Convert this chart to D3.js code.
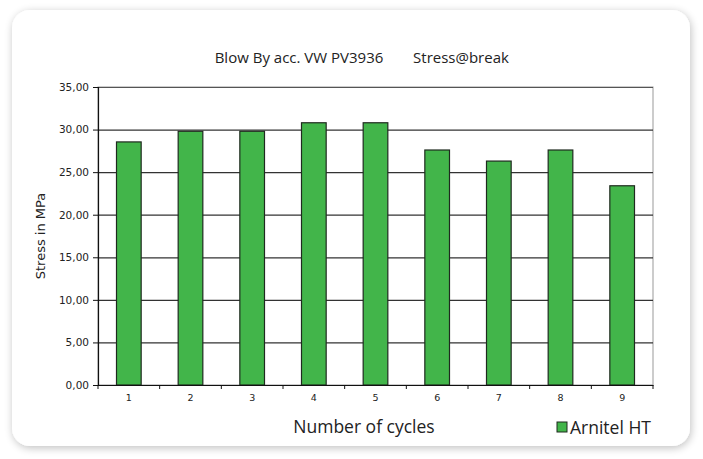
<!DOCTYPE html>
<html>
<head>
<meta charset="utf-8">
<script src="https://cdn.jsdelivr.net/npm/d3@7"></script>
<style>
  body { margin: 0; background: #fff; }
  svg text { fill: #222; }
</style>
</head>
<body>
<div id="chart"></div>
<script>
const cycles = ["1", "2", "3", "4", "5", "6", "7", "8", "9"];
const stress = [28.55, 29.8, 29.8, 30.8, 30.8, 27.6, 26.3, 27.6, 23.4];
const yTicks = [0, 5, 10, 15, 20, 25, 30, 35];
const seriesName = "Arnitel HT";

const W = 703, H = 459;
const margin = { top: 87, right: 50, bottom: 74, left: 98 };
const width = W - margin.left - margin.right;
const height = H - margin.top - margin.bottom;

const svg = d3.select("#chart").append("svg")
    .attr("width", W)
    .attr("height", H);

// card with soft shadow
const defs = svg.append("defs");
const blur = defs.append("filter").attr("id", "shadow")
    .attr("x", "-10%").attr("y", "-10%").attr("width", "120%").attr("height", "120%");
blur.append("feGaussianBlur").attr("in", "SourceAlpha").attr("stdDeviation", 4);
blur.append("feOffset").attr("dx", 1).attr("dy", 2).attr("result", "b");
blur.append("feComponentTransfer").append("feFuncA").attr("type", "linear").attr("slope", 0.25);
const merge = blur.append("feMerge");
merge.append("feMergeNode");
merge.append("feMergeNode").attr("in", "SourceGraphic");

svg.append("rect")
    .attr("x", 12).attr("y", 10)
    .attr("width", 678).attr("height", 436)
    .attr("rx", 18)
    .attr("fill", "#fff")
    .attr("filter", "url(#shadow)");

const g = svg.append("g")
    .attr("transform", `translate(${margin.left},${margin.top})`);

const x = d3.scaleBand()
    .domain(cycles)
    .range([0, width])
    .paddingInner(0.6)
    .paddingOuter(0.3);

const y = d3.scaleLinear()
    .domain([0, 35])
    .range([height, 0]);

// plot border
g.append("rect")
    .attr("width", width).attr("height", height)
    .attr("fill", "#fff")
    .attr("stroke", "#999")
    .attr("stroke-width", 1);

// gridlines
g.selectAll("line.grid")
    .data(yTicks.filter(d => d > 0 && d < 35))
    .enter()
    .append("line")
    .attr("class", "grid")
    .attr("x1", 0).attr("x2", width)
    .attr("y1", d => y(d) + 0.5).attr("y2", d => y(d) + 0.5)
    .attr("stroke", "#333")
    .attr("stroke-width", 1.2);

g.append("line")
    .attr("x1", 0).attr("x2", width)
    .attr("y1", 0.5).attr("y2", 0.5)
    .attr("stroke", "#555");

// bars
g.selectAll("rect.bar")
    .data(stress)
    .enter()
    .append("rect")
    .attr("class", "bar")
    .attr("x", (d, i) => x(cycles[i]))
    .attr("y", d => y(d))
    .attr("width", x.bandwidth())
    .attr("height", d => height - y(d))
    .attr("fill", "#42b54a")
    .attr("stroke", "#1f2a1f")
    .attr("stroke-width", 1.2);

// y axis
const yAxis = g.append("g")
    .call(d3.axisLeft(y)
        .tickValues(yTicks)
        .tickSize(5)
        .tickFormat(d => d3.format(".2f")(d).replace(".", ",")));
yAxis.select(".domain").attr("stroke", "#111").attr("stroke-width", 1.2);
yAxis.selectAll(".tick line").attr("stroke", "#111");
yAxis.selectAll("text")
    .attr("x", -9)
    .style("font-family", "DejaVu Sans, Verdana, sans-serif")
    .style("font-size", "10.5px")
    .attr("fill", "#222");

// x axis: ticks between categories
const xAxis = g.append("g")
    .attr("transform", `translate(0,${height})`)
    .call(d3.axisBottom(x).tickSize(0).tickPadding(9));
xAxis.select(".domain").attr("stroke", "#111").attr("stroke-width", 1.2);
xAxis.selectAll("text")
    .style("font-family", "DejaVu Sans, Verdana, sans-serif")
    .style("font-size", "9.5px")
    .attr("fill", "#222");

const edges = d3.range(cycles.length + 1).map(i => i * width / cycles.length);
xAxis.selectAll("line.sep")
    .data(edges)
    .enter()
    .append("line")
    .attr("class", "sep")
    .attr("x1", d => d).attr("x2", d => d)
    .attr("y1", 0).attr("y2", 4)
    .attr("stroke", "#111");

// titles
svg.append("text")
    .attr("x", 299).attr("y", 63)
    .attr("text-anchor", "middle")
    .style("font-family", "Open Sans, sans-serif")
    .style("font-size", "15px")
    .text("Blow By acc. VW PV3936");

svg.append("text")
    .attr("x", 461).attr("y", 63)
    .attr("text-anchor", "middle")
    .style("font-family", "Open Sans, sans-serif")
    .style("font-size", "15px")
    .text("Stress@break");

svg.append("text")
    .attr("transform", "translate(45,236) rotate(-90)")
    .attr("text-anchor", "middle")
    .style("font-family", "DejaVu Sans, Verdana, sans-serif")
    .style("font-size", "13px")
    .text("Stress in MPa");

svg.append("text")
    .attr("x", 364).attr("y", 433)
    .attr("text-anchor", "middle")
    .style("font-family", "Open Sans, sans-serif")
    .style("font-size", "17.5px")
    .text("Number of cycles");

// legend
const legend = svg.append("g").attr("transform", "translate(557,422)");
legend.append("rect")
    .attr("width", 10).attr("height", 10)
    .attr("fill", "#42b54a")
    .attr("stroke", "#1f2a1f");
legend.append("text")
    .attr("x", 13).attr("y", 12)
    .style("font-family", "Open Sans, sans-serif")
    .style("font-size", "17.5px")
    .text(seriesName);
</script>
</body>
</html>
